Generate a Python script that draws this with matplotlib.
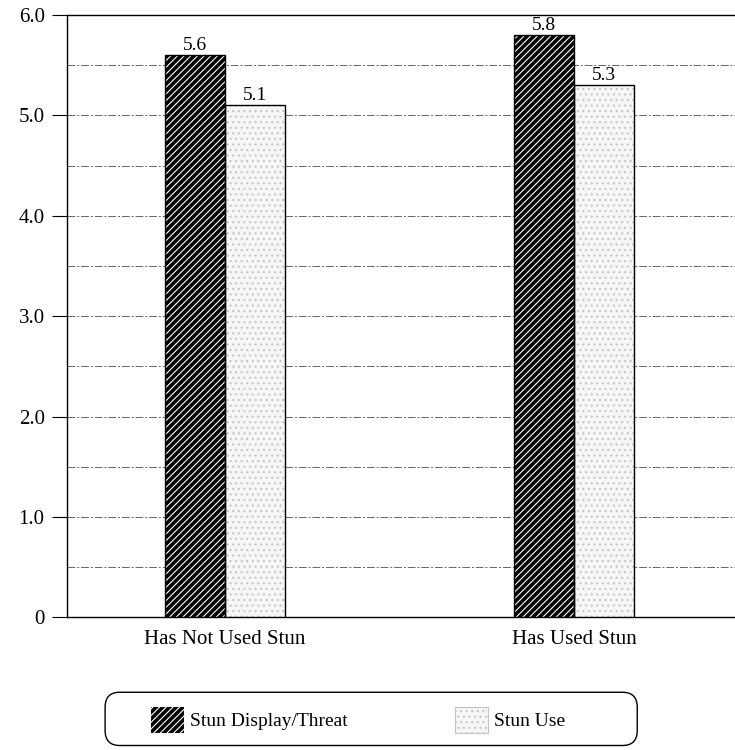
#!/usr/bin/env python3
"""Stun display/threat vs stun use, by prior stun use."""

import matplotlib
matplotlib.use("Agg")
import matplotlib.pyplot as plt
from matplotlib.patches import FancyBboxPatch, Patch
import numpy as np

categories = ["Has Not Used Stun", "Has Used Stun"]
series_names = ["Stun Display/Threat", "Stun Use"]
display_threat = [5.6, 5.8]
stun_use = [5.1, 5.3]
y_ticks = [0, 1.0, 2.0, 3.0, 4.0, 5.0, 6.0]
y_tick_labels = ["0", "1.0", "2.0", "3.0", "4.0", "5.0", "6.0"]

plt.rcParams.update({
    "font.family": ["Liberation Serif", "DejaVu Serif"],
    "font.size": 14,
    "hatch.linewidth": 0.8,
})

DARK_HATCH = "/////"
LIGHT = "#f6f6f6"
LIGHT_DOTS = "#c4c4c4"
LIGHT_HATCH = "..."

fig = plt.figure(figsize=(7.35, 7.5), dpi=100)
ax = fig.add_axes([0.091, 0.177, 0.909, 0.803])

x = np.arange(len(categories))
width = 0.172

# dark bars: black with white diagonal stripes, then black outline on top
ax.bar(x - width / 2, display_threat, width, color="black", edgecolor="white",
       hatch=DARK_HATCH, linewidth=0, zorder=3)
ax.bar(x - width / 2, display_threat, width, facecolor="none",
       edgecolor="black", linewidth=1.0, zorder=4)
# light bars: stippled grey
ax.bar(x + width / 2, stun_use, width, color=LIGHT, edgecolor=LIGHT_DOTS,
       hatch=LIGHT_HATCH, linewidth=0, zorder=3)
ax.bar(x + width / 2, stun_use, width, facecolor="none",
       edgecolor="black", linewidth=1.0, zorder=4)

for xi, v in zip(x - width / 2, display_threat):
    ax.text(xi, v + 0.01, f"{v:.1f}", ha="center", va="bottom", fontsize=14)
for xi, v in zip(x + width / 2, stun_use):
    ax.text(xi, v + 0.01, f"{v:.1f}", ha="center", va="bottom", fontsize=14)

ax.set_xlim(-0.453, 1.46)
ax.set_ylim(0, 6.0)
ax.set_yticks(y_ticks)
ax.set_yticklabels(y_tick_labels)
ax.set_yticks(np.arange(0.5, 6.0, 1.0), minor=True)
ax.set_xticks(x)
ax.set_xticklabels(categories)
ax.tick_params(axis="x", length=0, pad=9, labelsize=15)
ax.tick_params(axis="y", which="major", length=11, width=0.8, pad=5, labelsize=15)
ax.tick_params(axis="y", which="minor", length=0)

ax.grid(axis="y", which="both", linestyle=(0, (8, 2, 2, 2)), color="#666666",
        linewidth=0.7, zorder=0)
ax.spines["right"].set_visible(False)
for s in ("top", "left", "bottom"):
    ax.spines[s].set_linewidth(1.0)

# rounded legend box
box = FancyBboxPatch((0.143, 0.006), 0.724, 0.071,
                     boxstyle="round,pad=0,rounding_size=0.02",
                     transform=fig.transFigure, facecolor="none",
                     edgecolor="black", linewidth=1.0)
fig.patches.append(box)
handles = [
    Patch(facecolor="black", edgecolor="white", hatch=DARK_HATCH, linewidth=0),
    Patch(facecolor=LIGHT, edgecolor=LIGHT_DOTS, hatch=LIGHT_HATCH, linewidth=0.8),
]
fig.legend(handles, series_names, loc="center", bbox_to_anchor=(0.487, 0.04),
           ncol=2, frameon=False, fontsize=14, handlelength=1.7,
           handleheight=1.7, handletextpad=0.3, columnspacing=5.5)

fig.savefig("out.png", dpi=100)
